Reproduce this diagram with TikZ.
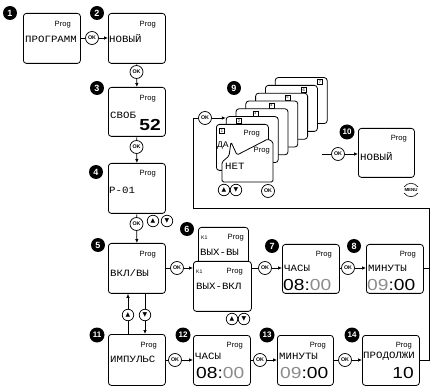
\documentclass[tikz,border=0pt]{standalone}
\usepackage{fontspec}
\usepackage{graphicx}
\setmainfont{Liberation Sans}
\newfontfamily\lcdf[FakeStretch=1.12]{Liberation Mono}
\newfontfamily\digf[FakeStretch=1.2]{Liberation Sans}
\newfontfamily\symf{DejaVu Sans}
\usetikzlibrary{arrows.meta}
\tikzset{
 box/.style={draw, line width=0.8pt, rounded corners=3pt, fill=white, inner sep=0},
 badge/.style={circle, fill=black, text=white, font=\bfseries\fontsize{9}{9}\selectfont, minimum size=14pt, inner sep=0},
 okb/.style={circle, draw, line width=0.7pt, fill=white, font=\bfseries\fontsize{5.3}{5.3}\selectfont, minimum size=13pt, inner sep=0},
 tri/.style={circle, draw, line width=0.7pt, fill=white, font=\symf\fontsize{6}{6}\selectfont, minimum size=11.5pt, inner sep=0},
 prog/.style={font=\fontsize{7.6}{7.6}\selectfont, inner sep=0, anchor=east},
 kone/.style={font=\fontsize{5.2}{5.2}\selectfont, inner sep=0, anchor=west},
 lcd/.style={font=\lcdf\fontsize{9.6}{9.6}\selectfont, inner sep=0, anchor=west},
 big/.style={font=\digf\fontsize{16}{16}\selectfont, inner sep=0},
 cardnum/.style={draw, line width=0.3pt, inner sep=0.4pt, minimum size=5pt, font=\fontsize{4}{4}\selectfont},
 arr/.style={line width=0.7pt, -{Latex[length=4pt,width=3.5pt]}},
 ln/.style={line width=0.7pt},
}
\newcommand\mybox[5]{\node[box, anchor=north west, minimum width=#4pt, minimum height=#5pt] (#1) at (#2,#3) {};}
\begin{document}
\begin{tikzpicture}[x=1pt,y=-1pt]
\useasboundingbox (0,0) rectangle (431,387);

\coordinate (rtop) at (429.5,208);
\coordinate (ltop) at (193,208);
\coordinate (s10) at (322,154);

% ---------- boxes ----------
\mybox{b1}{23}{13}{57}{50}
\mybox{b2}{108}{13}{57}{50}
\mybox{b3}{108}{87}{57}{49}
\mybox{b4}{108}{163}{57}{50}
\mybox{b5}{108}{243}{57}{50}
\mybox{b6a}{198}{227}{50}{45}
\mybox{b6b}{193}{261}{58}{50}
\mybox{b7}{282}{244}{57}{49}
\mybox{b8}{366}{244}{57}{49}
\mybox{b10}{358}{128}{56}{49}
\mybox{b11}{108}{334}{57}{51}
\mybox{b12}{193}{335}{57}{50}
\mybox{b13}{277}{335}{56}{50}
\mybox{b14}{362}{335}{57}{50}

% ---------- card stack (9) ----------
\foreach \k in {7,6,...,2}{
  \pgfmathsetmacro\cx{216+(\k-1)*9.8}
  \pgfmathsetmacro\cy{124-(\k-1)*7.8}
  \pgfmathsetmacro\lx{239+(\k-2)*16.2}
  \pgfmathsetmacro\ly{121-(\k-2)*7.8}
  \node[box, anchor=north west, minimum width=52pt, minimum height=46pt] (c\k) at (\cx,\cy) {};
  \node[cardnum] (n\k) at (\lx,\ly) {\k};
}
\node[box, anchor=north west, minimum width=52pt, minimum height=46pt] (c1) at (216,124) {};
\node[cardnum] (n1) at (222,131) {1};
\node[prog] (pc1) at (260,134) {Prog};
\node[lcd, font=\lcdf\fontsize{8.6}{8.6}\selectfont] (tda) at (217,146) {ДА};
\filldraw[fill=white, line width=0.8pt, rounded corners=1.5pt]
  (231,142) -- (237,155) -- (268,139) -- (273,142) -- (273,182) -- (222,182) -- (222,162) -- (229,156) -- cycle;
\node[prog] (pnet) at (270,151) {Prog};
\node[lcd] (tnet) at (225,166) {НЕТ};

% ---------- texts ----------
\node[prog] (p1) at (71,25) {Prog};
\node[lcd] (t1) at (25,39) {ПРОГРАММ};
\node[prog] (p2) at (156,25) {Prog};
\node[lcd] (t2) at (109,39) {НОВЫЙ};
\node[prog] (p3) at (156,99) {Prog};
\node[lcd] (t3) at (110,115) {СВОБ};
\node[big, anchor=east] (t3b) at (161,125) {\textbf{52}};
\node[prog] (p4) at (156,174) {Prog};
\node[lcd] (t4) at (109,190) {P-01};
\node[prog] (p5) at (156,255) {Prog};
\node[lcd] (t5) at (110,273) {ВКЛ/ВЫ};
\node[kone] (k6a) at (201,238) {K1};
\node[prog] (p6a) at (244,238) {Prog};
\node[lcd] (t6a) at (200,252) {ВЫХ-ВЫ};
\node[kone] (k6b) at (196,272) {K1};
\node[prog] (p6b) at (243,272) {Prog};
\node[lcd] (t6b) at (196,286) {ВЫХ-ВКЛ};
\node[prog] (p7) at (332,255) {Prog};
\node[lcd] (t7) at (284,268) {ЧАСЫ};
\node[big, anchor=west] (d7) at (283,285) {08:\textcolor{black!45}{00}};
\node[prog] (p8) at (416,255) {Prog};
\node[lcd] (t8) at (368,268) {МИНУТЫ};
\node[big, anchor=west] (d8) at (367,285) {\textcolor{black!45}{09}:00};
\node[prog] (p10) at (407,139) {Prog};
\node[lcd] (t10) at (360,157) {НОВЫЙ};
\node[prog] (p11) at (157,346) {Prog};
\node[lcd] (t11) at (110,359) {ИМПУЛЬС};
\node[prog] (p12) at (243,346) {Prog};
\node[lcd] (t12) at (195,356) {ЧАСЫ};
\node[big, anchor=west] (d12) at (196,373) {08:\textcolor{black!45}{00}};
\node[prog] (p13) at (326,346) {Prog};
\node[lcd] (t13) at (279,356) {МИНУТЫ};
\node[big, anchor=west] (d13) at (280,373) {\textcolor{black!45}{09}:00};
\node[prog] (p14) at (412,346) {Prog};
\node[lcd] (t14) at (363,356) {ПРОДОЛЖИ};
\node[big, anchor=east] (d14) at (414,373) {10};

% ---------- OK buttons and connectors ----------
\node[okb] (ok12) at (92,38) {OK};
\draw[ln] (b1.east |- ok12) -- (ok12);
\draw[arr] (ok12) -- (ok12 -| b2.west);

\node[okb] (ok23) at (136.5,72) {OK};
\draw[ln] (b2.south) -- (ok23);
\draw[arr] (ok23) -- (b3.north);

\node[okb] (ok34) at (136.5,147) {OK};
\draw[ln] (b3.south) -- (ok34);
\draw[arr] (ok34) -- (b4.north);

\node[okb] (ok45) at (136.5,224) {OK};
\draw[ln] (b4.south) -- (ok45);
\draw[arr] (ok45) -- (b5.north);
\node[tri] (u4) at (153,221) {▲};
\node[tri] (d4) at (167,221) {▼};

\node[okb] (ok56) at (177,268) {OK};
\draw[ln] (b5.east |- ok56) -- (ok56);
\draw[arr] (ok56) -- (ok56 -| b6b.west);
\node[tri] (u6) at (232,319) {▲};
\node[tri] (d6) at (244,319) {▼};

\node[okb] (ok67) at (265,268) {OK};
\draw[ln] (b6b.east |- ok67) -- (ok67);
\draw[arr] (ok67) -- (ok67 -| b7.west);

\node[okb] (ok78) at (348,268) {OK};
\draw[ln] (b7.east |- ok78) -- (ok78);
\draw[arr] (ok78) -- (ok78 -| b8.west);
\draw[ln] (b8.east |- ok78) -- (ok78 -| rtop);

\node[okb] (ok9) at (205,118) {OK};
\draw[ln] (b14.east) -- (b14.east -| rtop) -- (rtop) -- (ltop) -- (ltop |- ok9) -- (ok9);
\draw[arr] (ok9) -- (ok9 -| c2.west);
\node[tri] (u9) at (224,190) {▲};
\node[tri] (d9) at (236,190) {▼};
\node[okb] (ok9b) at (268,191) {OK};

\node[okb] (ok10) at (338,154) {OK};
\draw[ln] (s10) -- (ok10);
\draw[arr] (ok10) -- (ok10 -| b10.west);
\node[inner sep=0, font=\bfseries\fontsize{4.4}{4.4}\selectfont] (menu) at (411,190) {MENU};
\draw[line width=0.6pt] (404,187) .. controls (408,182) and (414,182) .. (418,187);
\draw[line width=0.6pt] (404,193) .. controls (408,198) and (414,198) .. (418,193);

\node[tri] (u5) at (128,315) {▲};
\node[tri] (d5) at (145,315) {▼};
\draw[ln] (b11.north -| u5) -- (u5);
\draw[arr] (u5) -- (u5 |- b5.south);
\draw[ln] (b5.south -| d5) -- (d5);
\draw[arr] (d5) -- (d5 |- b11.north);

\node[okb] (ok1112) at (175,360) {OK};
\draw[ln] (b11.east |- ok1112) -- (ok1112);
\draw[arr] (ok1112) -- (ok1112 -| b12.west);
\node[okb] (ok1213) at (260,360) {OK};
\draw[ln] (b12.east |- ok1213) -- (ok1213);
\draw[arr] (ok1213) -- (ok1213 -| b13.west);
\node[okb] (ok1314) at (345,360) {OK};
\draw[ln] (b13.east |- ok1314) -- (ok1314);
\draw[arr] (ok1314) -- (ok1314 -| b14.west);

% ---------- badges ----------
\node[badge] (g1) at (10,13) {1};
\node[badge] (g2) at (97,13) {2};
\node[badge] (g3) at (97,88) {3};
\node[badge] (g4) at (96,172) {4};
\node[badge] (g5) at (98,245) {5};
\node[badge] (g6) at (187,229) {6};
\node[badge] (g7) at (272,246) {7};
\node[badge] (g8) at (354,246) {8};
\node[badge] (g9) at (234,88) {9};
\node[badge, minimum size=15pt, font=\bfseries\fontsize{8}{8}\selectfont] (g10) at (347,132) {10};
\node[badge, minimum size=15pt, font=\bfseries\fontsize{8}{8}\selectfont] (g11) at (97,335) {11};
\node[badge, minimum size=15pt, font=\bfseries\fontsize{8}{8}\selectfont] (g12) at (183,335) {12};
\node[badge, minimum size=15pt, font=\bfseries\fontsize{8}{8}\selectfont] (g13) at (267,335) {13};
\node[badge, minimum size=15pt, font=\bfseries\fontsize{8}{8}\selectfont] (g14) at (352,335) {14};
\end{tikzpicture}
\end{document}
